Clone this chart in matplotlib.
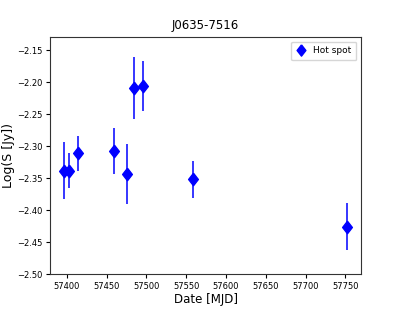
import numpy as np
import matplotlib
matplotlib.use("Agg")
import matplotlib.pyplot as plt

# ----------------------------
# Data
# ----------------------------
mjd = [57396.5, 57402.0, 57414.0, 57459.0, 57475.0, 57484.0, 57496.0, 57558.0, 57752.0]
log_s = [-2.338, -2.338, -2.311, -2.308, -2.343, -2.209, -2.206, -2.352, -2.426]
log_s_err = [0.045, 0.027, 0.027, 0.036, 0.047, 0.049, 0.039, 0.029, 0.037]

title = "J0635-7516"
xlabel = "Date [MJD]"
ylabel = "Log(S [Jy])"
xticks = [57400, 57450, 57500, 57550, 57600, 57650, 57700, 57750]
yticks = [-2.50, -2.45, -2.40, -2.35, -2.30, -2.25, -2.20, -2.15]

plt.rcParams["font.family"] = "DejaVu Sans"

# slightly narrow diamond, like the squeezed markers in the reference
diamond = [(0, 1), (0.78, 0), (0, -1), (-0.78, 0), (0, 1)]

fig = plt.figure(figsize=(3.93, 3.14), dpi=100)
ax = fig.add_axes([50 / 393, 40 / 314, 311 / 393, 237 / 314])

ax.errorbar(mjd, log_s, yerr=log_s_err, fmt="none", ecolor="blue",
            elinewidth=1.1, capsize=0)
ax.plot(mjd, log_s, linestyle="none", marker=diamond, color="blue",
        markersize=9, label="Hot spot")

ax.set_ylim(-2.5, -2.129)
ax.set_xticks(xticks)
ax.set_yticks(yticks)
ax.set_xticklabels([str(t) for t in xticks])
ax.set_yticklabels([f"\u2212{abs(t):.2f}" for t in yticks])
ax.tick_params(labelsize=6, length=3, width=0.8, pad=2.5)

ax.set_title(title, fontsize=8.5)
ax.set_xlabel(xlabel, fontsize=8.5, labelpad=2)
ax.set_ylabel(ylabel, fontsize=9)
ax.yaxis.set_label_coords(-0.112, 0.5)
ax.legend(loc="upper right", fontsize=6.5, handlelength=1.0,
          handletextpad=0.9, borderpad=0.55, markerscale=0.9)

for s in ax.spines.values():
    s.set_color("#333333")

plt.savefig("out.png", dpi=100)
